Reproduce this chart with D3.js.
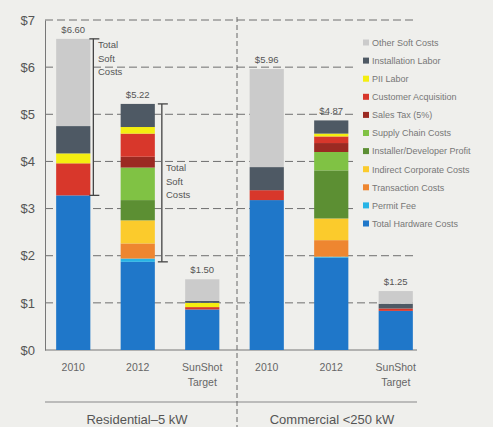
<!DOCTYPE html>
<html>
<head>
<meta charset="utf-8">
<script src="https://cdn.jsdelivr.net/npm/d3@7"></script>
<style>
  body { margin: 0; background: #efefec; }
  svg { display: block; font-family: "Liberation Sans", Arial, sans-serif; }
</style>
</head>
<body>
<div class="visualization"></div>
<script>
// bars, left to right
const bars = ["r2010", "r2012", "rSun", "c2010", "c2012", "cSun"];
const barLabels = [["2010"], ["2012"], ["SunShot", "Target"], ["2010"], ["2012"], ["SunShot", "Target"]];
const totals = ["$6.60", "$5.22", "$1.50", "$5.96", "$4.87", "$1.25"];
const groups = ["Residential–5 kW", "Commercial <250 kW"];

// series, bottom to top
const series = ["Total Hardware Costs", "Permit Fee", "Transaction Costs", "Indirect Corporate Costs",
  "Installer/Developer Profit", "Supply Chain Costs", "Sales Tax (5%)", "Customer Acquisition",
  "PII Labor", "Installation Labor", "Other Soft Costs"];
const colors = ["#1f77c9", "#27b4e6", "#ee8630", "#fbcb2c", "#5c8f33", "#80c244", "#9b2a22",
  "#d8372b", "#f4ee10", "#4e5964", "#cbcbcb"];

// values per series, one per bar ($/W)
const hardware     = [3.28, 1.87, 0.86, 3.18, 1.96, 0.83];
const permit       = [0,    0.07, 0,    0,    0.02, 0];
const transaction  = [0,    0.32, 0,    0,    0.35, 0];
const indirect     = [0,    0.49, 0,    0,    0.46, 0];
const profit       = [0,    0.43, 0,    0,    1.02, 0];
const supplyChain  = [0,    0.69, 0,    0,    0.39, 0];
const salesTax     = [0,    0.23, 0,    0,    0.19, 0];
const acquisition  = [0.68, 0.49, 0.05, 0.21, 0.14, 0.05];
const piiLabor     = [0.21, 0.14, 0.09, 0,    0.06, 0];
const installLabor = [0.58, 0.49, 0.04, 0.49, 0.28, 0.10];
const otherSoft    = [1.85, 0,    0.46, 2.08, 0,    0.27];
const seriesValues = [hardware, permit, transaction, indirect, profit, supplyChain,
  salesTax, acquisition, piiLabor, installLabor, otherSoft];

const yTicks = [0, 1, 2, 3, 4, 5, 6, 7];

const W = 493, H = 427;
const svg = d3.select(".visualization").append("svg").attr("width", W).attr("height", H);

const x = d3.scaleBand().domain(bars).range([41, 428]).paddingInner(0.47).paddingOuter(0.235);
const y = d3.scaleLinear().domain([0, 7]).range([350, 20]);

const rows = bars.map((b, i) => {
  const r = { bar: b };
  series.forEach((s, k) => r[s] = seriesValues[k][i]);
  return r;
});
const stacked = d3.stack().keys(series)(rows);

// gridlines
svg.append("g").selectAll("line").data(yTicks.filter(d => d > 0)).join("line")
  .attr("x1", 45).attr("x2", 417)
  .attr("y1", d => y(d)).attr("y2", d => y(d))
  .attr("stroke", "#6f6f6f").attr("stroke-width", 1).attr("stroke-dasharray", "8,4");

// y axis
const yAxis = svg.append("g").attr("transform", "translate(45,0)")
  .call(d3.axisLeft(y).tickValues(yTicks).tickFormat(d => "$" + d).tickSize(0).tickPadding(10));
yAxis.select(".domain").attr("stroke", "#777");
yAxis.selectAll("text").attr("font-size", 13).attr("fill", "#555");

// baseline
svg.append("line").attr("x1", 45).attr("x2", 417).attr("y1", y(0)).attr("y2", y(0))
  .attr("stroke", "#777");

// bars
svg.append("g").selectAll("g").data(stacked).join("g")
  .attr("fill", (d, i) => colors[i])
  .selectAll("rect").data(d => d).join("rect")
  .attr("x", d => x(d.data.bar))
  .attr("width", x.bandwidth())
  .attr("y", d => y(d[1]))
  .attr("height", d => y(d[0]) - y(d[1]));

// totals above bars
const topVal = bars.map((b, i) => d3.sum(seriesValues, s => s[i]));
svg.append("g").selectAll("text").data(bars).join("text")
  .attr("x", d => x(d) + x.bandwidth() / 2)
  .attr("y", (d, i) => y(topVal[i]) - 6)
  .attr("text-anchor", "middle").attr("font-size", 9.5).attr("fill", "#555")
  .text((d, i) => totals[i]);

// bar labels
barLabels.forEach((lines, i) => {
  const t = svg.append("text").attr("x", x(bars[i]) + x.bandwidth() / 2).attr("y", 371)
    .attr("text-anchor", "middle").attr("font-size", 10.5).attr("fill", "#666");
  lines.forEach((l, j) => t.append("tspan").attr("x", x(bars[i]) + x.bandwidth() / 2)
    .attr("dy", j ? 15 : 0).text(l));
});

// group separator line and labels
svg.append("line").attr("x1", 45).attr("x2", 417).attr("y1", 402).attr("y2", 402)
  .attr("stroke", "#888").attr("stroke-width", 1.2);
svg.append("line").attr("x1", 237).attr("x2", 237).attr("y1", 17).attr("y2", H)
  .attr("stroke", "#666").attr("stroke-dasharray", "5,3");
svg.selectAll(".grp").data(groups).join("text")
  .attr("x", (d, i) => i ? 332 : 137).attr("y", 424)
  .attr("text-anchor", "middle").attr("font-size", 13).attr("fill", "#555")
  .text(d => d);

// "Total Soft Costs" brackets
function bracket(bi, from, to, dx, tx, ty) {
  const bx = x(bars[bi]) + x.bandwidth() + dx;
  const g = svg.append("g").attr("stroke", "#444").attr("stroke-width", 1.3);
  g.append("line").attr("x1", bx).attr("x2", bx).attr("y1", y(to)).attr("y2", y(from));
  g.append("line").attr("x1", bx - 4).attr("x2", bx + 6).attr("y1", y(to)).attr("y2", y(to));
  g.append("line").attr("x1", bx - 4).attr("x2", bx + 6).attr("y1", y(from)).attr("y2", y(from));
  const t = svg.append("text").attr("font-size", 9.5).attr("fill", "#555");
  ["Total", "Soft", "Costs"].forEach((l, j) => t.append("tspan")
    .attr("x", tx).attr("y", ty + j * 13.5).text(l));
}
bracket(0, hardware[0], topVal[0], 3, 98, 48);
bracket(1, hardware[1], topVal[1], 7, 166, 171);

// legend, top to bottom, on its own background box
svg.append("rect").attr("x", 355).attr("y", 30).attr("width", 138).attr("height", 204)
  .attr("fill", "#efefec");
const legend = svg.append("g").selectAll("g").data(series.slice().reverse()).join("g")
  .attr("transform", (d, i) => `translate(363,${43 + i * 18.1})`);
legend.append("rect").attr("x", 0).attr("y", -3.5).attr("width", 6).attr("height", 6)
  .attr("fill", d => colors[series.indexOf(d)]);
legend.append("text").attr("x", 9).attr("y", 2.8).attr("font-size", 9).attr("fill", "#777")
  .text(d => d);
</script>
</body>
</html>
